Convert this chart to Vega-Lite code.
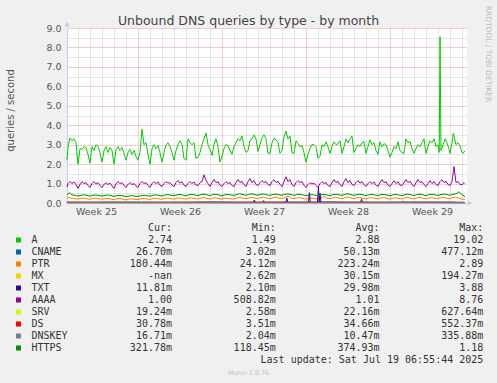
{
  "$schema": "https://vega.github.io/schema/vega-lite/v6.json",
  "width": 400,
  "height": 175,
  "autosize": {"type": "none"},
  "padding": {"left": 67, "top": 28, "right": 30, "bottom": 180},
  "background": "#F0F0F0",
  "config": {"view": {"fill": "white", "stroke": null}},
  "datasets": {
    "series": [
      {"s":"A","t":1.08,"v":2.2},{"s":"A","t":1.17,"v":2.9},{"s":"A","t":1.33,"v":3.35},{"s":"A","t":1.5,"v":3.2},{"s":"A","t":1.67,"v":3.3},{"s":"A","t":1.83,"v":3.1},
      {"s":"A","t":2,"v":2.0},{"s":"A","t":2.17,"v":2.8},{"s":"A","t":2.33,"v":2.75},{"s":"A","t":2.5,"v":2.9},{"s":"A","t":2.67,"v":2.85},{"s":"A","t":2.83,"v":2.5},
      {"s":"A","t":3,"v":2.05},{"s":"A","t":3.17,"v":2.9},{"s":"A","t":3.33,"v":2.7},{"s":"A","t":3.5,"v":3.0},{"s":"A","t":3.67,"v":2.9},{"s":"A","t":3.83,"v":2.6},
      {"s":"A","t":4,"v":2.1},{"s":"A","t":4.17,"v":2.7},{"s":"A","t":4.33,"v":2.9},{"s":"A","t":4.5,"v":2.6},{"s":"A","t":4.67,"v":2.85},{"s":"A","t":4.83,"v":2.7},
      {"s":"A","t":5,"v":2.0},{"s":"A","t":5.17,"v":2.75},{"s":"A","t":5.33,"v":2.9},{"s":"A","t":5.5,"v":2.7},{"s":"A","t":5.67,"v":2.85},{"s":"A","t":5.83,"v":2.55},
      {"s":"A","t":6,"v":2.2},{"s":"A","t":6.17,"v":2.6},{"s":"A","t":6.33,"v":2.75},{"s":"A","t":6.5,"v":2.5},{"s":"A","t":6.67,"v":2.7},{"s":"A","t":6.83,"v":2.4},
      {"s":"A","t":7,"v":2.2},{"s":"A","t":7.17,"v":2.6},{"s":"A","t":7.33,"v":3.8},{"s":"A","t":7.5,"v":3.0},{"s":"A","t":7.67,"v":3.1},{"s":"A","t":7.83,"v":2.5},
      {"s":"A","t":8,"v":2.0},{"s":"A","t":8.17,"v":2.8},{"s":"A","t":8.33,"v":3.0},{"s":"A","t":8.5,"v":2.8},{"s":"A","t":8.67,"v":2.95},{"s":"A","t":8.83,"v":2.6},
      {"s":"A","t":9,"v":2.1},{"s":"A","t":9.17,"v":2.6},{"s":"A","t":9.33,"v":3.0},{"s":"A","t":9.5,"v":3.1},{"s":"A","t":9.67,"v":2.9},{"s":"A","t":9.83,"v":2.6},
      {"s":"A","t":10,"v":2.2},{"s":"A","t":10.17,"v":2.7},{"s":"A","t":10.33,"v":3.0},{"s":"A","t":10.5,"v":3.2},{"s":"A","t":10.67,"v":3.0},{"s":"A","t":10.83,"v":2.3},
      {"s":"A","t":11,"v":2.2},{"s":"A","t":11.17,"v":3.3},{"s":"A","t":11.33,"v":3.1},{"s":"A","t":11.5,"v":3.0},{"s":"A","t":11.67,"v":3.1},{"s":"A","t":11.83,"v":2.3},
      {"s":"A","t":12,"v":2.35},{"s":"A","t":12.17,"v":2.6},{"s":"A","t":12.33,"v":3.0},{"s":"A","t":12.5,"v":3.3},{"s":"A","t":12.67,"v":3.6},{"s":"A","t":12.83,"v":3.0},
      {"s":"A","t":13,"v":2.75},{"s":"A","t":13.17,"v":2.45},{"s":"A","t":13.33,"v":3.0},{"s":"A","t":13.5,"v":3.3},{"s":"A","t":13.67,"v":2.9},{"s":"A","t":13.83,"v":2.1},
      {"s":"A","t":14,"v":2.4},{"s":"A","t":14.17,"v":2.8},{"s":"A","t":14.33,"v":3.0},{"s":"A","t":14.5,"v":2.95},{"s":"A","t":14.67,"v":2.7},{"s":"A","t":14.83,"v":2.5},
      {"s":"A","t":15,"v":2.9},{"s":"A","t":15.17,"v":3.1},{"s":"A","t":15.33,"v":3.3},{"s":"A","t":15.5,"v":3.2},{"s":"A","t":15.67,"v":3.45},{"s":"A","t":15.83,"v":2.9},
      {"s":"A","t":16,"v":2.6},{"s":"A","t":16.17,"v":2.7},{"s":"A","t":16.33,"v":3.2},{"s":"A","t":16.5,"v":3.3},{"s":"A","t":16.67,"v":3.5},{"s":"A","t":16.83,"v":3.3},
      {"s":"A","t":17,"v":2.65},{"s":"A","t":17.17,"v":3.0},{"s":"A","t":17.33,"v":3.35},{"s":"A","t":17.5,"v":3.5},{"s":"A","t":17.67,"v":3.3},{"s":"A","t":17.83,"v":2.55},
      {"s":"A","t":18,"v":2.56},{"s":"A","t":18.17,"v":3.1},{"s":"A","t":18.33,"v":3.33},{"s":"A","t":18.5,"v":3.25},{"s":"A","t":18.67,"v":3.1},{"s":"A","t":18.83,"v":2.55},
      {"s":"A","t":19,"v":2.7},{"s":"A","t":19.17,"v":3.4},{"s":"A","t":19.33,"v":3.7},{"s":"A","t":19.5,"v":3.3},{"s":"A","t":19.67,"v":3.45},{"s":"A","t":19.83,"v":2.6},
      {"s":"A","t":20,"v":2.55},{"s":"A","t":20.17,"v":3.2},{"s":"A","t":20.33,"v":3.05},{"s":"A","t":20.5,"v":2.9},{"s":"A","t":20.67,"v":2.95},{"s":"A","t":20.83,"v":2.6},
      {"s":"A","t":21,"v":2.1},{"s":"A","t":21.17,"v":2.5},{"s":"A","t":21.33,"v":2.8},{"s":"A","t":21.5,"v":3.0},{"s":"A","t":21.67,"v":3.0},{"s":"A","t":21.83,"v":2.9},
      {"s":"A","t":22,"v":2.3},{"s":"A","t":22.17,"v":2.4},{"s":"A","t":22.33,"v":3.0},{"s":"A","t":22.5,"v":2.9},{"s":"A","t":22.67,"v":3.15},{"s":"A","t":22.83,"v":2.9},
      {"s":"A","t":23,"v":2.55},{"s":"A","t":23.17,"v":2.9},{"s":"A","t":23.33,"v":3.15},{"s":"A","t":23.5,"v":3.0},{"s":"A","t":23.67,"v":3.05},{"s":"A","t":23.83,"v":3.2},
      {"s":"A","t":24,"v":2.55},{"s":"A","t":24.17,"v":2.9},{"s":"A","t":24.33,"v":3.3},{"s":"A","t":24.5,"v":3.1},{"s":"A","t":24.67,"v":3.3},{"s":"A","t":24.83,"v":3.45},
      {"s":"A","t":25,"v":2.6},{"s":"A","t":25.17,"v":2.8},{"s":"A","t":25.33,"v":3.0},{"s":"A","t":25.5,"v":2.9},{"s":"A","t":25.67,"v":3.1},{"s":"A","t":25.83,"v":3.15},
      {"s":"A","t":26,"v":2.55},{"s":"A","t":26.17,"v":2.9},{"s":"A","t":26.33,"v":3.25},{"s":"A","t":26.5,"v":3.0},{"s":"A","t":26.67,"v":3.1},{"s":"A","t":26.83,"v":2.7},
      {"s":"A","t":27,"v":2.5},{"s":"A","t":27.17,"v":3.15},{"s":"A","t":27.33,"v":2.9},{"s":"A","t":27.5,"v":3.05},{"s":"A","t":27.67,"v":3.0},{"s":"A","t":27.83,"v":2.7},
      {"s":"A","t":28,"v":2.35},{"s":"A","t":28.17,"v":2.6},{"s":"A","t":28.33,"v":2.9},{"s":"A","t":28.5,"v":2.8},{"s":"A","t":28.67,"v":3.15},{"s":"A","t":28.83,"v":2.7},
      {"s":"A","t":29,"v":2.6},{"s":"A","t":29.17,"v":2.55},{"s":"A","t":29.33,"v":3.3},{"s":"A","t":29.5,"v":3.1},{"s":"A","t":29.67,"v":3.15},{"s":"A","t":29.83,"v":2.8},
      {"s":"A","t":30,"v":2.55},{"s":"A","t":30.17,"v":2.8},{"s":"A","t":30.33,"v":3.0},{"s":"A","t":30.5,"v":2.9},{"s":"A","t":30.67,"v":3.1},{"s":"A","t":30.83,"v":3.3},
      {"s":"A","t":31,"v":2.55},{"s":"A","t":31.17,"v":2.9},{"s":"A","t":31.33,"v":3.2},{"s":"A","t":31.5,"v":3.1},{"s":"A","t":31.67,"v":3.3},{"s":"A","t":31.83,"v":2.9},
      {"s":"A","t":32,"v":3.0},{"s":"A","t":32.1,"v":2.6},{"s":"A","t":32.17,"v":8.55},{"s":"A","t":32.25,"v":2.7},{"s":"A","t":32.42,"v":3.0},{"s":"A","t":32.58,"v":3.3},{"s":"A","t":32.75,"v":3.1},{"s":"A","t":32.9,"v":2.8},
      {"s":"A","t":33,"v":2.55},{"s":"A","t":33.17,"v":3.1},{"s":"A","t":33.28,"v":3.6},{"s":"A","t":33.5,"v":3.0},{"s":"A","t":33.67,"v":3.1},{"s":"A","t":33.83,"v":2.95},
      {"s":"A","t":34,"v":2.6},{"s":"A","t":34.1,"v":2.56},{"s":"A","t":34.25,"v":2.7},

      {"s":"CNAME","t":1.08,"v":0.05},{"s":"CNAME","t":3,"v":0.045},{"s":"CNAME","t":5,"v":0.055},{"s":"CNAME","t":7,"v":0.05},{"s":"CNAME","t":9,"v":0.045},{"s":"CNAME","t":11,"v":0.05},{"s":"CNAME","t":13,"v":0.06},{"s":"CNAME","t":15,"v":0.05},{"s":"CNAME","t":17,"v":0.045},{"s":"CNAME","t":19,"v":0.055},{"s":"CNAME","t":21,"v":0.05},{"s":"CNAME","t":23,"v":0.06},{"s":"CNAME","t":25,"v":0.05},{"s":"CNAME","t":27,"v":0.045},{"s":"CNAME","t":29,"v":0.05},{"s":"CNAME","t":31,"v":0.055},{"s":"CNAME","t":33,"v":0.05},{"s":"CNAME","t":34.25,"v":0.03},

      {"s":"PTR","t":1.08,"v":0.25},{"s":"PTR","t":1.25,"v":0.28},{"s":"PTR","t":1.5,"v":0.24},{"s":"PTR","t":1.75,"v":0.22},
      {"s":"PTR","t":2,"v":0.2},{"s":"PTR","t":2.25,"v":0.24},{"s":"PTR","t":2.5,"v":0.25},{"s":"PTR","t":2.75,"v":0.22},
      {"s":"PTR","t":3,"v":0.19},{"s":"PTR","t":3.25,"v":0.23},{"s":"PTR","t":3.5,"v":0.26},{"s":"PTR","t":3.75,"v":0.21},
      {"s":"PTR","t":4,"v":0.2},{"s":"PTR","t":4.25,"v":0.22},{"s":"PTR","t":4.5,"v":0.24},{"s":"PTR","t":4.75,"v":0.2},
      {"s":"PTR","t":5,"v":0.17},{"s":"PTR","t":5.25,"v":0.22},{"s":"PTR","t":5.5,"v":0.23},{"s":"PTR","t":5.75,"v":0.19},
      {"s":"PTR","t":6,"v":0.16},{"s":"PTR","t":6.25,"v":0.2},{"s":"PTR","t":6.5,"v":0.22},{"s":"PTR","t":6.75,"v":0.18},
      {"s":"PTR","t":7,"v":0.18},{"s":"PTR","t":7.25,"v":0.22},{"s":"PTR","t":7.5,"v":0.24},{"s":"PTR","t":7.75,"v":0.2},
      {"s":"PTR","t":8,"v":0.18},{"s":"PTR","t":8.25,"v":0.23},{"s":"PTR","t":8.5,"v":0.25},{"s":"PTR","t":8.75,"v":0.21},
      {"s":"PTR","t":9,"v":0.19},{"s":"PTR","t":9.25,"v":0.24},{"s":"PTR","t":9.5,"v":0.26},{"s":"PTR","t":9.75,"v":0.22},
      {"s":"PTR","t":10,"v":0.2},{"s":"PTR","t":10.25,"v":0.24},{"s":"PTR","t":10.5,"v":0.27},{"s":"PTR","t":10.75,"v":0.22},
      {"s":"PTR","t":11,"v":0.2},{"s":"PTR","t":11.25,"v":0.25},{"s":"PTR","t":11.5,"v":0.26},{"s":"PTR","t":11.75,"v":0.22},
      {"s":"PTR","t":12,"v":0.21},{"s":"PTR","t":12.25,"v":0.25},{"s":"PTR","t":12.5,"v":0.28},{"s":"PTR","t":12.75,"v":0.23},
      {"s":"PTR","t":13,"v":0.2},{"s":"PTR","t":13.25,"v":0.26},{"s":"PTR","t":13.5,"v":0.27},{"s":"PTR","t":13.75,"v":0.22},
      {"s":"PTR","t":14,"v":0.2},{"s":"PTR","t":14.25,"v":0.24},{"s":"PTR","t":14.5,"v":0.25},{"s":"PTR","t":14.75,"v":0.21},
      {"s":"PTR","t":15,"v":0.21},{"s":"PTR","t":15.25,"v":0.26},{"s":"PTR","t":15.5,"v":0.3},{"s":"PTR","t":15.75,"v":0.24},
      {"s":"PTR","t":16,"v":0.22},{"s":"PTR","t":16.25,"v":0.27},{"s":"PTR","t":16.5,"v":0.3},{"s":"PTR","t":16.75,"v":0.24},
      {"s":"PTR","t":17,"v":0.22},{"s":"PTR","t":17.25,"v":0.28},{"s":"PTR","t":17.5,"v":0.3},{"s":"PTR","t":17.75,"v":0.24},
      {"s":"PTR","t":18,"v":0.22},{"s":"PTR","t":18.25,"v":0.27},{"s":"PTR","t":18.5,"v":0.3},{"s":"PTR","t":18.75,"v":0.24},
      {"s":"PTR","t":19,"v":0.23},{"s":"PTR","t":19.25,"v":0.28},{"s":"PTR","t":19.5,"v":0.36},{"s":"PTR","t":19.75,"v":0.25},
      {"s":"PTR","t":20,"v":0.22},{"s":"PTR","t":20.25,"v":0.26},{"s":"PTR","t":20.5,"v":0.28},{"s":"PTR","t":20.75,"v":0.23},
      {"s":"PTR","t":21,"v":0.2},{"s":"PTR","t":21.25,"v":0.24},{"s":"PTR","t":21.5,"v":0.26},{"s":"PTR","t":21.75,"v":0.22},
      {"s":"PTR","t":22,"v":0.21},{"s":"PTR","t":22.25,"v":0.26},{"s":"PTR","t":22.5,"v":0.34},{"s":"PTR","t":22.75,"v":0.24},
      {"s":"PTR","t":23,"v":0.22},{"s":"PTR","t":23.25,"v":0.27},{"s":"PTR","t":23.5,"v":0.3},{"s":"PTR","t":23.75,"v":0.24},
      {"s":"PTR","t":24,"v":0.22},{"s":"PTR","t":24.25,"v":0.28},{"s":"PTR","t":24.5,"v":0.31},{"s":"PTR","t":24.75,"v":0.25},
      {"s":"PTR","t":25,"v":0.22},{"s":"PTR","t":25.25,"v":0.27},{"s":"PTR","t":25.5,"v":0.29},{"s":"PTR","t":25.75,"v":0.24},
      {"s":"PTR","t":26,"v":0.21},{"s":"PTR","t":26.25,"v":0.26},{"s":"PTR","t":26.5,"v":0.28},{"s":"PTR","t":26.75,"v":0.23},
      {"s":"PTR","t":27,"v":0.21},{"s":"PTR","t":27.25,"v":0.26},{"s":"PTR","t":27.5,"v":0.28},{"s":"PTR","t":27.75,"v":0.23},
      {"s":"PTR","t":28,"v":0.2},{"s":"PTR","t":28.25,"v":0.25},{"s":"PTR","t":28.5,"v":0.27},{"s":"PTR","t":28.75,"v":0.23},
      {"s":"PTR","t":29,"v":0.21},{"s":"PTR","t":29.25,"v":0.26},{"s":"PTR","t":29.5,"v":0.29},{"s":"PTR","t":29.75,"v":0.24},
      {"s":"PTR","t":30,"v":0.21},{"s":"PTR","t":30.25,"v":0.27},{"s":"PTR","t":30.5,"v":0.29},{"s":"PTR","t":30.75,"v":0.24},
      {"s":"PTR","t":31,"v":0.21},{"s":"PTR","t":31.25,"v":0.26},{"s":"PTR","t":31.5,"v":0.28},{"s":"PTR","t":31.75,"v":0.23},
      {"s":"PTR","t":32,"v":0.22},{"s":"PTR","t":32.25,"v":0.27},{"s":"PTR","t":32.5,"v":0.29},{"s":"PTR","t":32.75,"v":0.24},
      {"s":"PTR","t":33,"v":0.22},{"s":"PTR","t":33.25,"v":0.28},{"s":"PTR","t":33.5,"v":0.3},{"s":"PTR","t":33.75,"v":0.25},
      {"s":"PTR","t":34,"v":0.2},{"s":"PTR","t":34.25,"v":0.18},

      {"s":"MX","t":1.08,"v":0.03},{"s":"MX","t":3,"v":0.028},{"s":"MX","t":5,"v":0.045},{"s":"MX","t":7,"v":0.03},{"s":"MX","t":9,"v":0.028},{"s":"MX","t":11,"v":0.04},{"s":"MX","t":13,"v":0.03},{"s":"MX","t":15,"v":0.028},{"s":"MX","t":17,"v":0.03},{"s":"MX","t":19,"v":0.035},{"s":"MX","t":21,"v":0.03},{"s":"MX","t":23,"v":0.028},{"s":"MX","t":25,"v":0.03},{"s":"MX","t":27,"v":0.03},{"s":"MX","t":29,"v":0.028},{"s":"MX","t":31,"v":0.03},{"s":"MX","t":33,"v":0.03},{"s":"MX","t":34.25,"v":0.025},

      {"s":"TXT","t":1.08,"v":0.02},{"s":"TXT","t":16.6,"v":0.02},{"s":"TXT","t":16.7,"v":0.15},{"s":"TXT","t":16.8,"v":0.02},{"s":"TXT","t":17.38,"v":0.02},{"s":"TXT","t":17.47,"v":0.12},{"s":"TXT","t":17.56,"v":0.02},{"s":"TXT","t":19.3,"v":0.02},{"s":"TXT","t":19.4,"v":0.25},{"s":"TXT","t":19.5,"v":0.02},{"s":"TXT","t":21.2,"v":0.02},{"s":"TXT","t":21.28,"v":0.53},{"s":"TXT","t":21.36,"v":0.02},{"s":"TXT","t":21.95,"v":0.02},{"s":"TXT","t":22.04,"v":0.8},{"s":"TXT","t":22.1,"v":0.05},{"s":"TXT","t":22.17,"v":0.5},{"s":"TXT","t":22.25,"v":0.02},{"s":"TXT","t":25.55,"v":0.02},{"s":"TXT","t":25.63,"v":0.2},{"s":"TXT","t":25.71,"v":0.02},{"s":"TXT","t":29.0,"v":0.02},{"s":"TXT","t":29.1,"v":0.06},{"s":"TXT","t":29.2,"v":0.02},{"s":"TXT","t":34.25,"v":0.012},

      {"s":"AAAA","t":1.08,"v":0.82},{"s":"AAAA","t":1.17,"v":1.0},{"s":"AAAA","t":1.33,"v":1.1},{"s":"AAAA","t":1.5,"v":1.0},{"s":"AAAA","t":1.67,"v":1.08},{"s":"AAAA","t":1.83,"v":0.95},
      {"s":"AAAA","t":2,"v":0.75},{"s":"AAAA","t":2.17,"v":0.95},{"s":"AAAA","t":2.33,"v":1.1},{"s":"AAAA","t":2.5,"v":1.0},{"s":"AAAA","t":2.67,"v":1.05},{"s":"AAAA","t":2.83,"v":0.9},
      {"s":"AAAA","t":3,"v":0.8},{"s":"AAAA","t":3.17,"v":1.0},{"s":"AAAA","t":3.33,"v":1.1},{"s":"AAAA","t":3.5,"v":0.98},{"s":"AAAA","t":3.67,"v":1.05},{"s":"AAAA","t":3.83,"v":0.9},
      {"s":"AAAA","t":4,"v":0.8},{"s":"AAAA","t":4.17,"v":0.95},{"s":"AAAA","t":4.33,"v":1.05},{"s":"AAAA","t":4.5,"v":0.95},{"s":"AAAA","t":4.67,"v":1.02},{"s":"AAAA","t":4.83,"v":0.88},
      {"s":"AAAA","t":5,"v":0.75},{"s":"AAAA","t":5.17,"v":0.98},{"s":"AAAA","t":5.33,"v":1.1},{"s":"AAAA","t":5.5,"v":1.0},{"s":"AAAA","t":5.67,"v":1.05},{"s":"AAAA","t":5.83,"v":0.9},
      {"s":"AAAA","t":6,"v":0.8},{"s":"AAAA","t":6.17,"v":0.95},{"s":"AAAA","t":6.33,"v":1.05},{"s":"AAAA","t":6.5,"v":0.95},{"s":"AAAA","t":6.67,"v":1.0},{"s":"AAAA","t":6.83,"v":0.88},
      {"s":"AAAA","t":7,"v":0.8},{"s":"AAAA","t":7.17,"v":1.0},{"s":"AAAA","t":7.33,"v":1.1},{"s":"AAAA","t":7.5,"v":1.0},{"s":"AAAA","t":7.67,"v":1.05},{"s":"AAAA","t":7.83,"v":0.9},
      {"s":"AAAA","t":8,"v":0.8},{"s":"AAAA","t":8.17,"v":1.0},{"s":"AAAA","t":8.33,"v":1.1},{"s":"AAAA","t":8.5,"v":1.0},{"s":"AAAA","t":8.67,"v":1.08},{"s":"AAAA","t":8.83,"v":0.92},
      {"s":"AAAA","t":9,"v":0.85},{"s":"AAAA","t":9.17,"v":1.0},{"s":"AAAA","t":9.33,"v":1.1},{"s":"AAAA","t":9.5,"v":1.02},{"s":"AAAA","t":9.67,"v":1.05},{"s":"AAAA","t":9.83,"v":0.92},
      {"s":"AAAA","t":10,"v":0.85},{"s":"AAAA","t":10.17,"v":1.05},{"s":"AAAA","t":10.33,"v":1.15},{"s":"AAAA","t":10.5,"v":1.02},{"s":"AAAA","t":10.67,"v":1.1},{"s":"AAAA","t":10.83,"v":0.92},
      {"s":"AAAA","t":11,"v":0.85},{"s":"AAAA","t":11.17,"v":1.0},{"s":"AAAA","t":11.33,"v":1.1},{"s":"AAAA","t":11.5,"v":1.0},{"s":"AAAA","t":11.67,"v":1.08},{"s":"AAAA","t":11.83,"v":0.92},
      {"s":"AAAA","t":12,"v":0.9},{"s":"AAAA","t":12.17,"v":1.05},{"s":"AAAA","t":12.33,"v":1.1},{"s":"AAAA","t":12.5,"v":1.45},{"s":"AAAA","t":12.67,"v":1.15},{"s":"AAAA","t":12.83,"v":1.0},
      {"s":"AAAA","t":13,"v":0.85},{"s":"AAAA","t":13.17,"v":1.05},{"s":"AAAA","t":13.33,"v":1.2},{"s":"AAAA","t":13.5,"v":1.05},{"s":"AAAA","t":13.67,"v":1.1},{"s":"AAAA","t":13.83,"v":0.92},
      {"s":"AAAA","t":14,"v":0.85},{"s":"AAAA","t":14.17,"v":1.0},{"s":"AAAA","t":14.33,"v":1.1},{"s":"AAAA","t":14.5,"v":1.0},{"s":"AAAA","t":14.67,"v":1.05},{"s":"AAAA","t":14.83,"v":0.9},
      {"s":"AAAA","t":15,"v":0.85},{"s":"AAAA","t":15.17,"v":1.05},{"s":"AAAA","t":15.33,"v":1.2},{"s":"AAAA","t":15.5,"v":1.05},{"s":"AAAA","t":15.67,"v":1.12},{"s":"AAAA","t":15.83,"v":0.95},
      {"s":"AAAA","t":16,"v":0.85},{"s":"AAAA","t":16.17,"v":1.1},{"s":"AAAA","t":16.33,"v":1.25},{"s":"AAAA","t":16.5,"v":1.05},{"s":"AAAA","t":16.67,"v":1.15},{"s":"AAAA","t":16.83,"v":0.95},
      {"s":"AAAA","t":17,"v":0.9},{"s":"AAAA","t":17.17,"v":1.05},{"s":"AAAA","t":17.33,"v":1.15},{"s":"AAAA","t":17.5,"v":1.05},{"s":"AAAA","t":17.67,"v":1.1},{"s":"AAAA","t":17.83,"v":0.95},
      {"s":"AAAA","t":18,"v":0.9},{"s":"AAAA","t":18.17,"v":1.1},{"s":"AAAA","t":18.33,"v":1.2},{"s":"AAAA","t":18.5,"v":1.05},{"s":"AAAA","t":18.67,"v":1.12},{"s":"AAAA","t":18.83,"v":0.95},
      {"s":"AAAA","t":19,"v":0.85},{"s":"AAAA","t":19.17,"v":1.1},{"s":"AAAA","t":19.33,"v":1.35},{"s":"AAAA","t":19.5,"v":1.1},{"s":"AAAA","t":19.67,"v":1.2},{"s":"AAAA","t":19.83,"v":0.95},
      {"s":"AAAA","t":20,"v":0.85},{"s":"AAAA","t":20.17,"v":1.05},{"s":"AAAA","t":20.33,"v":1.15},{"s":"AAAA","t":20.5,"v":1.05},{"s":"AAAA","t":20.67,"v":1.1},{"s":"AAAA","t":20.83,"v":0.92},
      {"s":"AAAA","t":21,"v":0.8},{"s":"AAAA","t":21.17,"v":0.95},{"s":"AAAA","t":21.33,"v":1.05},{"s":"AAAA","t":21.5,"v":0.98},{"s":"AAAA","t":21.67,"v":1.02},{"s":"AAAA","t":21.83,"v":0.9},
      {"s":"AAAA","t":22,"v":0.8},{"s":"AAAA","t":22.17,"v":1.0},{"s":"AAAA","t":22.33,"v":1.1},{"s":"AAAA","t":22.5,"v":1.0},{"s":"AAAA","t":22.67,"v":1.05},{"s":"AAAA","t":22.83,"v":0.9},
      {"s":"AAAA","t":23,"v":0.85},{"s":"AAAA","t":23.17,"v":1.05},{"s":"AAAA","t":23.33,"v":1.2},{"s":"AAAA","t":23.5,"v":1.05},{"s":"AAAA","t":23.67,"v":1.12},{"s":"AAAA","t":23.83,"v":0.95},
      {"s":"AAAA","t":24,"v":0.85},{"s":"AAAA","t":24.17,"v":1.1},{"s":"AAAA","t":24.33,"v":1.25},{"s":"AAAA","t":24.5,"v":1.05},{"s":"AAAA","t":24.67,"v":1.15},{"s":"AAAA","t":24.83,"v":0.95},
      {"s":"AAAA","t":25,"v":0.9},{"s":"AAAA","t":25.17,"v":1.05},{"s":"AAAA","t":25.33,"v":1.15},{"s":"AAAA","t":25.5,"v":1.02},{"s":"AAAA","t":25.67,"v":1.1},{"s":"AAAA","t":25.83,"v":0.95},
      {"s":"AAAA","t":26,"v":0.85},{"s":"AAAA","t":26.17,"v":1.0},{"s":"AAAA","t":26.33,"v":1.1},{"s":"AAAA","t":26.5,"v":1.0},{"s":"AAAA","t":26.67,"v":1.08},{"s":"AAAA","t":26.83,"v":0.92},
      {"s":"AAAA","t":27,"v":0.85},{"s":"AAAA","t":27.17,"v":1.05},{"s":"AAAA","t":27.33,"v":1.2},{"s":"AAAA","t":27.5,"v":1.05},{"s":"AAAA","t":27.67,"v":1.1},{"s":"AAAA","t":27.83,"v":0.92},
      {"s":"AAAA","t":28,"v":0.85},{"s":"AAAA","t":28.17,"v":1.0},{"s":"AAAA","t":28.33,"v":1.15},{"s":"AAAA","t":28.5,"v":1.0},{"s":"AAAA","t":28.67,"v":1.1},{"s":"AAAA","t":28.83,"v":0.92},
      {"s":"AAAA","t":29,"v":0.9},{"s":"AAAA","t":29.17,"v":1.05},{"s":"AAAA","t":29.33,"v":1.2},{"s":"AAAA","t":29.5,"v":1.05},{"s":"AAAA","t":29.67,"v":1.12},{"s":"AAAA","t":29.83,"v":0.95},
      {"s":"AAAA","t":30,"v":0.85},{"s":"AAAA","t":30.17,"v":1.05},{"s":"AAAA","t":30.33,"v":1.2},{"s":"AAAA","t":30.5,"v":1.05},{"s":"AAAA","t":30.67,"v":1.1},{"s":"AAAA","t":30.83,"v":0.95},
      {"s":"AAAA","t":31,"v":0.85},{"s":"AAAA","t":31.17,"v":1.0},{"s":"AAAA","t":31.33,"v":1.15},{"s":"AAAA","t":31.5,"v":1.0},{"s":"AAAA","t":31.67,"v":1.1},{"s":"AAAA","t":31.83,"v":0.95},
      {"s":"AAAA","t":32,"v":0.9},{"s":"AAAA","t":32.17,"v":1.1},{"s":"AAAA","t":32.33,"v":1.2},{"s":"AAAA","t":32.5,"v":1.05},{"s":"AAAA","t":32.67,"v":1.12},{"s":"AAAA","t":32.83,"v":0.95},
      {"s":"AAAA","t":33,"v":0.9},{"s":"AAAA","t":33.17,"v":1.1},{"s":"AAAA","t":33.33,"v":1.87},{"s":"AAAA","t":33.5,"v":1.05},{"s":"AAAA","t":33.67,"v":1.1},{"s":"AAAA","t":33.83,"v":0.95},
      {"s":"AAAA","t":34,"v":0.95},{"s":"AAAA","t":34.17,"v":1.05},{"s":"AAAA","t":34.25,"v":1.0},

      {"s":"SRV","t":1.08,"v":0.022},{"s":"SRV","t":9,"v":0.02},{"s":"SRV","t":17,"v":0.024},{"s":"SRV","t":25,"v":0.022},{"s":"SRV","t":34.25,"v":0.019},

      {"s":"DS","t":1.08,"v":0.035},{"s":"DS","t":2,"v":0.033},{"s":"DS","t":3,"v":0.036},{"s":"DS","t":4,"v":0.034},{"s":"DS","t":5,"v":0.035},{"s":"DS","t":6,"v":0.032},{"s":"DS","t":7,"v":0.034},{"s":"DS","t":8,"v":0.036},{"s":"DS","t":9,"v":0.035},{"s":"DS","t":10,"v":0.034},{"s":"DS","t":11,"v":0.033},{"s":"DS","t":12,"v":0.036},{"s":"DS","t":13,"v":0.035},{"s":"DS","t":14,"v":0.037},{"s":"DS","t":15,"v":0.034},{"s":"DS","t":16,"v":0.035},{"s":"DS","t":17,"v":0.036},{"s":"DS","t":18,"v":0.034},{"s":"DS","t":19,"v":0.035},{"s":"DS","t":20,"v":0.033},{"s":"DS","t":21,"v":0.034},{"s":"DS","t":22,"v":0.036},{"s":"DS","t":23,"v":0.035},{"s":"DS","t":24,"v":0.034},{"s":"DS","t":25,"v":0.035},{"s":"DS","t":26,"v":0.036},{"s":"DS","t":27,"v":0.034},{"s":"DS","t":28,"v":0.033},{"s":"DS","t":29,"v":0.035},{"s":"DS","t":30,"v":0.036},{"s":"DS","t":31,"v":0.034},{"s":"DS","t":32,"v":0.035},{"s":"DS","t":33,"v":0.034},{"s":"DS","t":34,"v":0.035},{"s":"DS","t":34.25,"v":0.031},

      {"s":"DNSKEY","t":1.08,"v":0.01},{"s":"DNSKEY","t":9,"v":0.011},{"s":"DNSKEY","t":17,"v":0.01},{"s":"DNSKEY","t":25,"v":0.01},{"s":"DNSKEY","t":34.25,"v":0.017},

      {"s":"HTTPS","t":1.08,"v":0.4},{"s":"HTTPS","t":1.25,"v":0.53},{"s":"HTTPS","t":1.5,"v":0.42},{"s":"HTTPS","t":1.75,"v":0.4},
      {"s":"HTTPS","t":2,"v":0.36},{"s":"HTTPS","t":2.25,"v":0.4},{"s":"HTTPS","t":2.5,"v":0.42},{"s":"HTTPS","t":2.75,"v":0.39},
      {"s":"HTTPS","t":3,"v":0.35},{"s":"HTTPS","t":3.25,"v":0.4},{"s":"HTTPS","t":3.5,"v":0.41},{"s":"HTTPS","t":3.75,"v":0.38},
      {"s":"HTTPS","t":4,"v":0.36},{"s":"HTTPS","t":4.25,"v":0.39},{"s":"HTTPS","t":4.5,"v":0.41},{"s":"HTTPS","t":4.75,"v":0.38},
      {"s":"HTTPS","t":5,"v":0.34},{"s":"HTTPS","t":5.25,"v":0.38},{"s":"HTTPS","t":5.5,"v":0.4},{"s":"HTTPS","t":5.75,"v":0.37},
      {"s":"HTTPS","t":6,"v":0.33},{"s":"HTTPS","t":6.25,"v":0.36},{"s":"HTTPS","t":6.5,"v":0.38},{"s":"HTTPS","t":6.75,"v":0.35},
      {"s":"HTTPS","t":7,"v":0.34},{"s":"HTTPS","t":7.25,"v":0.38},{"s":"HTTPS","t":7.5,"v":0.4},{"s":"HTTPS","t":7.75,"v":0.37},
      {"s":"HTTPS","t":8,"v":0.35},{"s":"HTTPS","t":8.25,"v":0.4},{"s":"HTTPS","t":8.5,"v":0.42},{"s":"HTTPS","t":8.75,"v":0.38},
      {"s":"HTTPS","t":9,"v":0.36},{"s":"HTTPS","t":9.25,"v":0.41},{"s":"HTTPS","t":9.5,"v":0.43},{"s":"HTTPS","t":9.75,"v":0.4},
      {"s":"HTTPS","t":10,"v":0.37},{"s":"HTTPS","t":10.25,"v":0.42},{"s":"HTTPS","t":10.5,"v":0.44},{"s":"HTTPS","t":10.75,"v":0.4},
      {"s":"HTTPS","t":11,"v":0.37},{"s":"HTTPS","t":11.25,"v":0.43},{"s":"HTTPS","t":11.5,"v":0.45},{"s":"HTTPS","t":11.75,"v":0.41},
      {"s":"HTTPS","t":12,"v":0.38},{"s":"HTTPS","t":12.25,"v":0.43},{"s":"HTTPS","t":12.5,"v":0.46},{"s":"HTTPS","t":12.75,"v":0.42},
      {"s":"HTTPS","t":13,"v":0.38},{"s":"HTTPS","t":13.25,"v":0.44},{"s":"HTTPS","t":13.5,"v":0.45},{"s":"HTTPS","t":13.75,"v":0.41},
      {"s":"HTTPS","t":14,"v":0.37},{"s":"HTTPS","t":14.25,"v":0.42},{"s":"HTTPS","t":14.5,"v":0.44},{"s":"HTTPS","t":14.75,"v":0.41},
      {"s":"HTTPS","t":15,"v":0.39},{"s":"HTTPS","t":15.25,"v":0.44},{"s":"HTTPS","t":15.5,"v":0.48},{"s":"HTTPS","t":15.75,"v":0.43},
      {"s":"HTTPS","t":16,"v":0.4},{"s":"HTTPS","t":16.25,"v":0.45},{"s":"HTTPS","t":16.5,"v":0.47},{"s":"HTTPS","t":16.75,"v":0.43},
      {"s":"HTTPS","t":17,"v":0.4},{"s":"HTTPS","t":17.25,"v":0.45},{"s":"HTTPS","t":17.5,"v":0.46},{"s":"HTTPS","t":17.75,"v":0.42},
      {"s":"HTTPS","t":18,"v":0.39},{"s":"HTTPS","t":18.25,"v":0.44},{"s":"HTTPS","t":18.5,"v":0.46},{"s":"HTTPS","t":18.75,"v":0.42},
      {"s":"HTTPS","t":19,"v":0.4},{"s":"HTTPS","t":19.25,"v":0.45},{"s":"HTTPS","t":19.5,"v":0.47},{"s":"HTTPS","t":19.75,"v":0.43},
      {"s":"HTTPS","t":20,"v":0.39},{"s":"HTTPS","t":20.25,"v":0.44},{"s":"HTTPS","t":20.5,"v":0.45},{"s":"HTTPS","t":20.75,"v":0.41},
      {"s":"HTTPS","t":21,"v":0.37},{"s":"HTTPS","t":21.25,"v":0.41},{"s":"HTTPS","t":21.5,"v":0.43},{"s":"HTTPS","t":21.75,"v":0.4},
      {"s":"HTTPS","t":22,"v":0.37},{"s":"HTTPS","t":22.25,"v":0.42},{"s":"HTTPS","t":22.5,"v":0.44},{"s":"HTTPS","t":22.75,"v":0.41},
      {"s":"HTTPS","t":23,"v":0.38},{"s":"HTTPS","t":23.25,"v":0.43},{"s":"HTTPS","t":23.5,"v":0.45},{"s":"HTTPS","t":23.75,"v":0.42},
      {"s":"HTTPS","t":24,"v":0.39},{"s":"HTTPS","t":24.25,"v":0.45},{"s":"HTTPS","t":24.5,"v":0.47},{"s":"HTTPS","t":24.75,"v":0.43},
      {"s":"HTTPS","t":25,"v":0.39},{"s":"HTTPS","t":25.25,"v":0.43},{"s":"HTTPS","t":25.5,"v":0.45},{"s":"HTTPS","t":25.75,"v":0.42},
      {"s":"HTTPS","t":26,"v":0.38},{"s":"HTTPS","t":26.25,"v":0.42},{"s":"HTTPS","t":26.5,"v":0.44},{"s":"HTTPS","t":26.75,"v":0.41},
      {"s":"HTTPS","t":27,"v":0.38},{"s":"HTTPS","t":27.25,"v":0.43},{"s":"HTTPS","t":27.5,"v":0.44},{"s":"HTTPS","t":27.75,"v":0.41},
      {"s":"HTTPS","t":28,"v":0.37},{"s":"HTTPS","t":28.25,"v":0.42},{"s":"HTTPS","t":28.5,"v":0.44},{"s":"HTTPS","t":28.75,"v":0.41},
      {"s":"HTTPS","t":29,"v":0.38},{"s":"HTTPS","t":29.25,"v":0.43},{"s":"HTTPS","t":29.5,"v":0.46},{"s":"HTTPS","t":29.75,"v":0.42},
      {"s":"HTTPS","t":30,"v":0.38},{"s":"HTTPS","t":30.25,"v":0.44},{"s":"HTTPS","t":30.5,"v":0.46},{"s":"HTTPS","t":30.75,"v":0.42},
      {"s":"HTTPS","t":31,"v":0.38},{"s":"HTTPS","t":31.25,"v":0.43},{"s":"HTTPS","t":31.5,"v":0.45},{"s":"HTTPS","t":31.75,"v":0.42},
      {"s":"HTTPS","t":32,"v":0.39},{"s":"HTTPS","t":32.25,"v":0.44},{"s":"HTTPS","t":32.5,"v":0.46},{"s":"HTTPS","t":32.75,"v":0.43},
      {"s":"HTTPS","t":33,"v":0.4},{"s":"HTTPS","t":33.25,"v":0.45},{"s":"HTTPS","t":33.5,"v":0.47},{"s":"HTTPS","t":33.75,"v":0.58},
      {"s":"HTTPS","t":34,"v":0.42},{"s":"HTTPS","t":34.25,"v":0.33}
    ],
    "table": [
      {"s":"A","Cur":"2.74\u00a0","Min":"1.49\u00a0","Avg":"2.88\u00a0","Max":"19.02\u00a0"},
      {"s":"CNAME","Cur":"26.70m","Min":"3.02m","Avg":"50.13m","Max":"477.12m"},
      {"s":"PTR","Cur":"180.44m","Min":"24.12m","Avg":"223.24m","Max":"2.89\u00a0"},
      {"s":"MX","Cur":"-nan\u00a0","Min":"2.62m","Avg":"30.15m","Max":"194.27m"},
      {"s":"TXT","Cur":"11.81m","Min":"2.10m","Avg":"29.98m","Max":"3.88\u00a0"},
      {"s":"AAAA","Cur":"1.00\u00a0","Min":"508.82m","Avg":"1.01\u00a0","Max":"8.76\u00a0"},
      {"s":"SRV","Cur":"19.24m","Min":"2.58m","Avg":"22.16m","Max":"627.64m"},
      {"s":"DS","Cur":"30.78m","Min":"3.51m","Avg":"34.66m","Max":"552.37m"},
      {"s":"DNSKEY","Cur":"16.71m","Min":"2.04m","Avg":"10.47m","Max":"335.88m"},
      {"s":"HTTPS","Cur":"321.78m","Min":"118.45m","Avg":"374.93m","Max":"1.18\u00a0"}
    ]
  },
  "layer": [
    {
      "layer": [
        {
          "data": {"name": "series"},
          "mark": {"type": "line", "strokeWidth": 1, "interpolate": "linear"},
          "encoding": {
            "x": {
              "field": "t", "type": "quantitative",
              "scale": {"domain": [1.083, 34.417], "nice": false, "zero": false},
              "axis": {
                "orient": "bottom",
                "values": [1.5,2,2.5,3,3.5,4,4.5,5,5.5,6,6.5,7,7.5,8,8.5,9,9.5,10,10.5,11,11.5,12,12.5,13,13.5,14,14.5,15,15.5,16,16.5,17,17.5,18,18.5,19,19.5,20,20.5,21,21.5,22,22.5,23,23.5,24,24.5,25,25.5,26,26.5,27,27.5,28,28.5,29,29.5,30,30.5,31,31.5,32,32.5,33,33.5,34],
                "labelExpr": "(datum.value - 3.5) % 7 === 0 ? 'Week ' + (25 + floor(datum.value / 7)) : ''",
                "labelOverlap": false, "labelFlush": false, "labelBound": false,
                "labelFont": "DejaVu Sans", "labelFontSize": 9.5, "labelColor": "#555555", "labelPadding": 3,
                "ticks": false, "tickSize": 0,
                "domain": true, "domainColor": "#C8CCF5", "domainWidth": 1,
                "grid": true, "gridDash": [1, 1], "gridWidth": 1,
                "gridColor": {"condition": [{"test": "datum.value % 1 !== 0", "value": "rgba(255,255,255,0)"}, {"test": "datum.value % 7 === 0", "value": "#E89A9A"}], "value": "#CCCCCC"},
                "title": "Munin 2.0.76", "titleX": 181, "titleY": 169.5, "titleFont": "DejaVu Sans", "titleFontSize": 6.3, "titleFontWeight": "normal", "titleColor": "#C0C0C0", "titleAlign": "center", "titleBaseline": "middle"
              }
            },
            "y": {
              "field": "v", "type": "quantitative",
              "scale": {"domain": [0, 9], "nice": false, "zero": true},
              "axis": {
                "orient": "left",
                "values": [0,0.5,1,1.5,2,2.5,3,3.5,4,4.5,5,5.5,6,6.5,7,7.5,8,8.5,9],
                "labelExpr": "datum.value % 1 === 0 ? format(datum.value, '.1f') : ''",
                "labelOverlap": false, "labelFlush": false, "labelBound": false,
                "labelFont": "DejaVu Sans", "labelFontSize": 9.5, "labelColor": "#555555", "labelPadding": 6,
                "ticks": false, "tickSize": 0,
                "domain": true, "domainColor": "#C8CCF5", "domainWidth": 1,
                "grid": true, "gridDash": [1, 1], "gridWidth": 1,
                "gridColor": {"condition": {"test": "datum.value % 1 === 0", "value": "#E89A9A"}, "value": "#CCCCCC"},
                "title": "queries / second", "titleX": -57, "titleY": 82, "titleAngle": 270, "titleFont": "DejaVu Sans", "titleFontSize": 10, "titleFontWeight": "normal", "titleColor": "#555555", "titleAlign": "center", "titleBaseline": "middle"
              }
            },
            "color": {
              "field": "s", "type": "nominal",
              "scale": {
                "domain": ["A","CNAME","PTR","MX","TXT","AAAA","SRV","DS","DNSKEY","HTTPS"],
                "range": ["#00CC00","#0066B3","#FF8000","#FFCC00","#330099","#990099","#CCFF00","#FF0000","#808080","#008F00"]
              },
              "legend": {
                "orient": "none", "legendX": -53.5, "legendY": 207, "title": null, "direction": "vertical",
                "symbolType": "square", "symbolSize": 25, "symbolStrokeWidth": 0, "symbolOpacity": 1,
                "labelFont": "DejaVu Sans Mono", "labelFontSize": 10, "labelColor": "#333333", "labelOffset": 8, "labelLimit": 200,
                "rowPadding": 2, "padding": 0, "offset": 0,
                "encode": {"symbols": {"update": {"fill": {"scale": "color", "field": "value"}, "stroke": {"value": "transparent"}, "opacity": {"value": 1}}}}
              }
            }
          }
        },
        {
          "data": {"values": [{}]},
          "mark": {"type": "point", "shape": "triangle-up", "filled": true, "color": "#C8CCF5", "size": 28, "opacity": 1},
          "encoding": {"x": {"datum": 1.083, "type": "quantitative", "axis": null}, "y": {"datum": 9.2, "type": "quantitative", "axis": null}}
        },
        {
          "data": {"values": [{}]},
          "mark": {"type": "point", "shape": "triangle-right", "filled": true, "color": "#C8CCF5", "size": 28, "opacity": 1},
          "encoding": {"x": {"datum": 34.67, "type": "quantitative", "axis": null}, "y": {"datum": 0, "type": "quantitative", "axis": null}}
        },
        {
          "data": {"values": [{}]},
          "mark": {"type": "rule", "opacity": 0},
          "encoding": {
            "y": {"datum": 0, "type": "quantitative", "axis": {
              "orient": "right", "title": "RRDTOOL / TOBI OETIKER", "labels": false, "ticks": false, "domain": false, "grid": false,
              "titleX": 20, "titleY": 25.5, "titleAngle": 90, "titleFont": "DejaVu Sans", "titleFontSize": 7.5, "titleFontWeight": "normal", "titleColor": "#BBBBBB", "titleAlign": "center", "titleBaseline": "middle"
            }}
          }
        },
        {
          "data": {"values": [{}]},
          "mark": {"type": "rule", "opacity": 0},
          "encoding": {
            "x": {"datum": 1.083, "type": "quantitative", "axis": {
              "orient": "top", "title": "Unbound DNS queries by type - by month", "labels": false, "ticks": false, "domain": false, "grid": false,
              "titleX": 181, "titleY": -4, "titleAngle": 0, "titleFont": "DejaVu Sans", "titleFontSize": 12.5, "titleFontWeight": "normal", "titleColor": "#444444", "titleAlign": "center", "titleBaseline": "alphabetic"
            }}
          }
        }
      ],
      "resolve": {"axis": {"x": "independent", "y": "independent"}}
    },
    {
      "layer": [
        {
          "data": {"name": "table"},
          "transform": [{"fold": ["Cur","Min","Avg","Max"], "as": ["col","val"]}],
          "mark": {"type": "text", "align": "right", "baseline": "middle", "font": "DejaVu Sans Mono", "fontSize": 10, "color": "#333333"},
          "encoding": {
            "x": {"field": "col", "type": "nominal", "scale": {"type": "point", "domain": ["Cur","Min","Avg","Max"], "range": [105, 416.3], "padding": 0}, "axis": null},
            "y": {"field": "s", "type": "nominal", "scale": {"type": "point", "domain": ["hdr","A","CNAME","PTR","MX","TXT","AAAA","SRV","DS","DNSKEY","HTTPS","upd"], "range": [200, 332], "padding": 0}, "axis": null},
            "text": {"field": "val"}
          }
        },
        {
          "data": {"values": [{"c":"Cur","h":"Cur:\u00a0\u00a0"},{"c":"Min","h":"Min:\u00a0\u00a0"},{"c":"Avg","h":"Avg:\u00a0\u00a0"},{"c":"Max","h":"Max:\u00a0\u00a0"}]},
          "mark": {"type": "text", "align": "right", "baseline": "middle", "font": "DejaVu Sans Mono", "fontSize": 10, "color": "#333333"},
          "encoding": {
            "x": {"field": "c", "type": "nominal", "axis": null},
            "y": {"datum": "hdr", "type": "nominal", "axis": null},
            "text": {"field": "h"}
          }
        },
        {
          "data": {"values": [{"u": "Last update: Sat Jul 19 06:55:44 2025"}]},
          "mark": {"type": "text", "align": "right", "baseline": "middle", "font": "DejaVu Sans Mono", "fontSize": 10, "color": "#333333"},
          "encoding": {
            "x": {"datum": "Max", "type": "nominal", "axis": null},
            "y": {"datum": "upd", "type": "nominal", "axis": null},
            "text": {"field": "u"}
          }
        }
      ]
    }
  ],
  "resolve": {"scale": {"x": "independent", "y": "independent"}}
}
